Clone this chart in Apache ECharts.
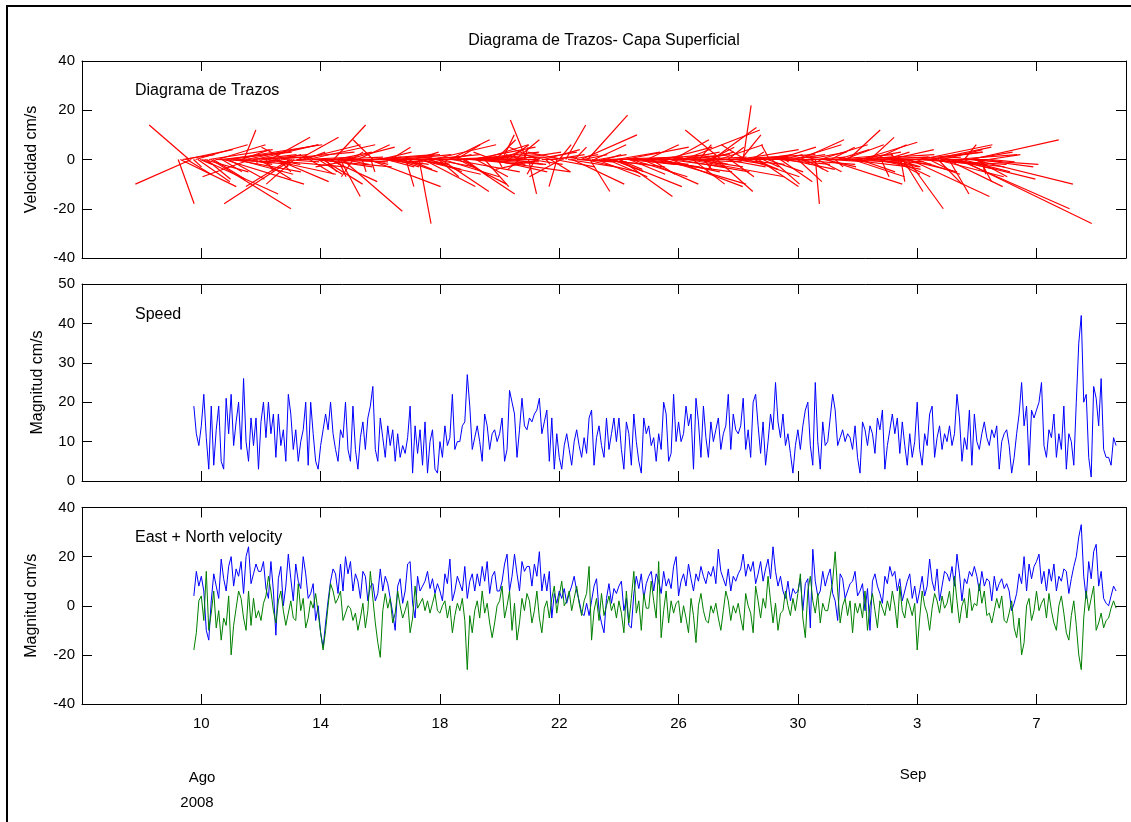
<!DOCTYPE html>
<html><head><meta charset="utf-8">
<script src="https://cdn.jsdelivr.net/npm/echarts@6/dist/echarts.min.js"></script>
<style>html,body{margin:0;padding:0;background:#fff;}#chart{width:1131px;height:822px;}</style>
</head><body><div id="chart"></div>
<script>
// time grid: day-of-August (Sep 1 = 32), first sample Aug 9 18:00, every 2 hours
const T0 = 9.75;
const STEP = 1 / 12;
const xTicks = [10, 14, 18, 22, 26, 30, 34, 38];
const xTickLabels = ['10', '14', '18', '22', '26', '30', '3', '7'];
const monthLabels = ['Ago', 'Sep'];
const yearLabel = '2008';

const speed = [
 19,12,9,
 14,22,11,3,19,4,13,19,5,3,21,12,
 22,9,15,20,8,26,10,5,16,9,16,3,
 15,20,11,20,12,17,6,17,9,13,5,22,
 17,8,13,5,10,13,20,4,20,12,5,3,
 9,13,17,13,20,12,8,5,13,11,20,8,
 5,19,8,3,11,15,8,16,19,24,8,5,
 16,11,6,14,9,13,5,12,6,9,7,11,
 19,2,14,7,13,4,15,2,10,13,3,2,
 10,6,14,9,11,22,8,10,10,14,15,27,
 19,8,11,14,10,5,17,14,8,12,13,10,
 12,16,5,8,23,20,17,6,13,21,14,13,
 16,15,17,18,21,12,15,18,5,16,3,12,
 6,3,9,12,8,4,10,13,9,6,11,7,
 16,18,4,11,14,9,6,16,8,12,16,10,
 16,8,3,15,12,4,17,10,5,2,16,12,
 14,9,11,5,12,8,20,17,5,7,22,10,
 15,10,12,19,14,17,3,21,15,6,19,11,
 6,15,10,13,16,8,12,14,22,8,17,13,
 12,14,21,8,13,6,20,22,14,7,15,4,
 10,17,13,25,15,11,17,9,12,7,2,9,
 13,8,14,18,20,9,4,25,10,3,15,9,
 10,16,22,18,9,11,13,10,12,11,8,14,
 6,2,15,13,9,14,12,7,16,13,18,3,
 9,13,17,12,16,7,15,9,4,12,6,10,
 20,8,4,12,9,17,19,6,11,14,8,12,
 10,14,9,12,22,16,5,11,8,18,4,17,
 10,8,12,15,11,9,13,11,14,3,10,12,
 13,9,2,6,12,17,25,14,19,4,18,16,
 18,20,25,9,6,13,11,17,6,12,8,19,
 3,12,10,4,20,35,42,20,22,6,1,24,
 21,14,26,8,6,6,4,11,9
];

const east = [
 4,14,8,
 12,6,-10,-14,2,13,8,3,19,11,6,16,
 20,8,15,12,18,5,20,24,9,13,17,14,
 14,18,7,3,18,6,-12,11,16,0,8,21,
 11,2,17,10,7,20,13,3,5,9,-6,0,
 -11,-17,-7,2,10,15,13,5,17,6,20,13,
 18,6,13,10,3,14,12,2,8,9,2,5,
 15,6,12,9,3,-3,-10,8,11,1,6,17,
 18,1,-5,12,6,8,10,14,7,11,5,9,
 6,2,13,9,19,2,6,12,9,6,16,3,
 10,13,6,13,8,16,10,18,5,12,14,6,
 6,10,17,21,6,12,21,13,6,18,14,16,
 16,8,17,12,22,6,13,6,14,-5,5,1,
 6,3,7,1,5,8,12,6,2,-3,-4,1,
 -4,2,8,11,-2,-7,-11,3,9,1,7,5,
 8,10,-2,3,-8,-9,5,12,7,13,3,9,
 12,14,6,13,10,5,14,8,11,7,16,20,
 4,10,13,8,17,11,6,13,10,16,12,9,
 14,12,16,9,23,14,11,8,15,6,12,10,
 13,15,21,12,17,14,18,9,13,18,10,15,
 19,11,24,14,8,12,6,3,10,2,7,5,
 6,11,-2,9,11,-9,23,10,4,6,14,8,
 12,15,5,2,-6,13,11,3,6,9,10,14,
 4,6,9,-2,7,-10,10,13,8,5,1,12,
 9,16,12,14,6,11,2,6,10,13,3,8,
 1,6,12,4,8,19,10,6,15,2,8,14,
 13,10,16,8,21,13,2,11,9,14,12,16,
 12,6,14,8,11,10,2,12,6,9,11,7,
 9,6,-2,1,5,13,9,20,6,17,11,16,
 18,21,9,14,6,15,10,17,6,12,10,15,
 14,5,11,16,20,28,33,12,3,18,11,22,
 25,8,14,3,1,0,4,8,6
];

const north = [
 -18,-11,2,
 4,-6,14,-10,-3,6,-9,-2,-14,-5,-8,4,
 -20,-8,-1,6,3,-5,-10,6,-8,3,-5,-2,
 -6,1,4,12,6,-2,-7,2,6,-2,-8,-3,
 2,-5,-6,9,-2,3,-9,-5,2,-1,5,-3,
 -11,-18,-10,0,9,6,1,3,6,-6,-3,0,
 -1,-6,-3,-10,-5,1,-9,-2,14,3,-7,-15,
 -21,-2,5,-1,3,-7,-3,6,0,-5,-2,2,
 -11,-5,8,-1,1,3,-2,2,-3,1,5,-2,
 -3,0,2,-5,0,-11,-4,1,-2,3,-6,-26,
 -4,-11,-2,2,-5,6,-3,1,-7,-13,-7,0,
 2,8,-5,0,6,-10,1,-14,-7,3,-2,5,
 2,-7,-2,6,-5,-11,-1,2,-5,3,8,-3,
 4,10,0,2,6,-2,3,8,1,-4,2,5,
 16,-14,-2,3,-6,5,-4,0,4,-2,1,-5,
 2,-3,-11,6,-7,3,14,-3,2,-10,5,-1,
 -1,10,2,-5,18,-13,-2,6,-7,2,-3,1,
 2,-7,0,-5,-11,3,-4,-15,0,5,-2,-6,
 -7,0,-3,1,-5,-10,-2,6,2,-6,0,-3,
 1,-5,-10,5,0,-3,-11,8,2,-5,3,-1,
 12,2,-7,1,-10,-3,-2,6,0,-4,3,-2,
 5,13,-5,-13,6,12,2,-3,5,-7,1,-2,
 -2,4,10,22,6,-7,0,3,-4,2,-11,1,
 -3,1,-5,6,-10,0,5,-2,-9,2,-1,-4,
 2,-2,6,0,-9,8,-2,-5,3,0,-4,1,
 -18,-5,6,0,-3,-10,-1,5,2,-3,4,-1,
 1,6,-3,12,2,-7,0,3,-5,7,-2,1,
 0,9,1,6,-4,-3,-7,-2,3,-1,4,-6,
 -7,-3,2,-9,-13,-5,-20,-15,0,3,-6,-2,
 6,-2,1,3,-5,5,-2,-7,-10,0,4,-3,
 -11,-14,-4,2,-8,-20,-26,-5,6,-2,3,8,
 -10,-7,-3,-9,-6,-5,-1,2,-1
];

const STICK_K = 0.152; // days of stick-axis per cm/s of east velocity

const times = speed.map((_, i) => T0 + i * STEP);
const FONT = 'Liberation Sans, Arial, Helvetica, sans-serif';
const AX = '#000';
const TXT = '#000';

function xAx(grid, pos, labels) {
  return {
    type: 'value', gridIndex: grid, position: pos, min: 6, max: 41, interval: 4,
    axisLine: {show: true, onZero: false, lineStyle: {color: AX, width: 1}},
    axisTick: {show: true, inside: true, length: 10, lineStyle: {color: AX}},
    splitLine: {show: false},
    axisLabel: labels ? {
      show: true, margin: 12, fontSize: 15, fontFamily: FONT, color: TXT,
      showMinLabel: false,
      formatter: v => { const k = xTicks.indexOf(Math.round(v)); return k >= 0 ? xTickLabels[k] : ''; }
    } : {show: false}
  };
}
function yAx(grid, pos, min, max, interval, name, gap) {
  return {
    type: 'value', gridIndex: grid, position: pos, min, max, interval,
    name: name || '', nameLocation: 'middle', nameGap: gap || 0, nameRotate: 90,
    nameTextStyle: {fontSize: 16, fontFamily: FONT, color: TXT},
    axisLine: {show: true, onZero: false, lineStyle: {color: AX, width: 1}},
    axisTick: {show: true, inside: true, length: 10, lineStyle: {color: AX}},
    splitLine: {show: false},
    axisLabel: pos === 'left' ? {show: true, margin: 7, fontSize: 15, fontFamily: FONT, color: TXT,
      showMinLabel: true, showMaxLabel: true} : {show: false}
  };
}

const grids = [
  {left: 82, right: 5, top: 61, height: 197},
  {left: 82, right: 5, top: 284, height: 197},
  {left: 82, right: 5, top: 507.5, height: 196.5}
];

const option = {
  animation: false,
  backgroundColor: '#fff',
  grid: grids,
  xAxis: [
    xAx(0, 'bottom', false), xAx(0, 'top', false),
    {type: 'value', gridIndex: 0, show: false, min: 6.09, max: 45.82},
    xAx(1, 'bottom', false), xAx(1, 'top', false),
    xAx(2, 'bottom', true), xAx(2, 'top', false)
  ],
  yAxis: [
    yAx(0, 'left', -40, 40, 20, 'Velocidad cm/s', 42), yAx(0, 'right', -40, 40, 20),
    yAx(1, 'left', 0, 50, 10, 'Magnitud cm/s', 36), yAx(1, 'right', 0, 50, 10),
    yAx(2, 'left', -40, 40, 20, 'Magnitud cm/s', 42), yAx(2, 'right', -40, 40, 20)
  ],
  series: [
    {
      type: 'custom', xAxisIndex: 2, yAxisIndex: 0, clip: true,
      data: times.map((t, i) => [t, east[i], north[i]]),
      encode: {x: 0, y: 2},
      renderItem: (params, api) => {
        const t = api.value(0), e = api.value(1), n = api.value(2);
        const p0 = api.coord([t, 0]);
        const p1 = api.coord([t + e * STICK_K, n]);
        return {type: 'line', shape: {x1: p0[0], y1: p0[1], x2: p1[0], y2: p1[1]},
          style: {stroke: '#ff0000', lineWidth: 1.2}};
      }
    },
    {type: 'line', xAxisIndex: 3, yAxisIndex: 2, showSymbol: false, symbol: 'none',
      data: times.map((t, i) => [t, speed[i]]), lineStyle: {color: '#0000ff', width: 1}},
    {type: 'line', xAxisIndex: 5, yAxisIndex: 4, showSymbol: false, symbol: 'none',
      data: times.map((t, i) => [t, east[i]]), lineStyle: {color: '#0000ff', width: 1}},
    {type: 'line', xAxisIndex: 5, yAxisIndex: 4, showSymbol: false, symbol: 'none',
      data: times.map((t, i) => [t, north[i]]), lineStyle: {color: '#008000', width: 1}}
  ],
  graphic: [
    {type: 'polyline', silent: true, shape: {points: [[7, 822], [7, 6], [1131, 6]]},
      style: {stroke: '#000', lineWidth: 2, fill: null}},
    {type: 'text', x: 604, y: 41, style: {text: 'Diagrama de Trazos- Capa Superficial', font: '16px ' + FONT,
      fill: TXT, align: 'center', verticalAlign: 'middle', textAlign: 'center', textVerticalAlign: 'middle'}},
    {type: 'text', x: 135, y: 91, style: {text: 'Diagrama de Trazos', font: '16px ' + FONT, fill: TXT,
      verticalAlign: 'middle', textVerticalAlign: 'middle'}},
    {type: 'text', x: 135, y: 315, style: {text: 'Speed', font: '16px ' + FONT, fill: TXT,
      verticalAlign: 'middle', textVerticalAlign: 'middle'}},
    {type: 'text', x: 135, y: 538, style: {text: 'East + North velocity', font: '16px ' + FONT, fill: TXT,
      verticalAlign: 'middle', textVerticalAlign: 'middle'}},
    {type: 'text', x: 202, y: 778, style: {text: monthLabels[0], font: '15px ' + FONT, fill: TXT,
      align: 'center', verticalAlign: 'middle', textAlign: 'center', textVerticalAlign: 'middle'}},
    {type: 'text', x: 197, y: 803, style: {text: yearLabel, font: '15px ' + FONT, fill: TXT,
      align: 'center', verticalAlign: 'middle', textAlign: 'center', textVerticalAlign: 'middle'}},
    {type: 'text', x: 913, y: 775, style: {text: monthLabels[1], font: '15px ' + FONT, fill: TXT,
      align: 'center', verticalAlign: 'middle', textAlign: 'center', textVerticalAlign: 'middle'}}
  ]
};

const chart = echarts.init(document.getElementById('chart'), null, {renderer: 'canvas'});
chart.setOption(option);
</script>
</body></html>
